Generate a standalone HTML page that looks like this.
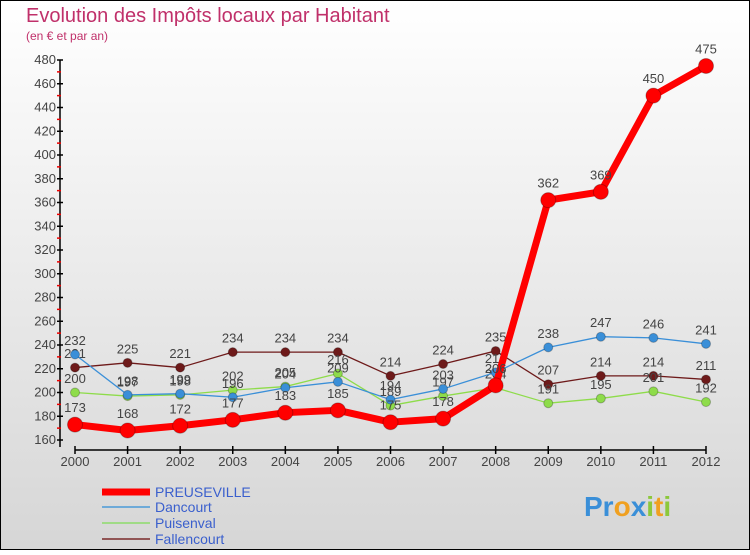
<!DOCTYPE html>
<html><head><meta charset="utf-8">
<style>
html,body{margin:0;padding:0}
body{width:750px;height:550px;overflow:hidden;font-family:"Liberation Sans","DejaVu Sans",sans-serif}
</style></head>
<body>
<svg width="750" height="550" xmlns="http://www.w3.org/2000/svg">
<defs>
<linearGradient id="bg" x1="0" y1="0" x2="0" y2="1">
<stop offset="0" stop-color="#ffffff"/><stop offset="1" stop-color="#d6d6d6"/>
</linearGradient>
</defs>
<rect x="0.5" y="0.5" width="749" height="549" fill="url(#bg)" stroke="#000"/>
<text x="26" y="22" font-size="20" fill="#c0306a">Evolution des Impôts locaux par Habitant</text>
<text x="26" y="40" font-size="12" fill="#c0306a">(en € et par an)</text>
<g id="axes"></g>
<g id="series"></g>
<g id="legend">
<line x1="102" y1="492" x2="150" y2="492" stroke="#ff0000" stroke-width="7"/>
<text x="155" y="497" font-size="14" fill="#3a5fcd">PREUSEVILLE</text>
<line x1="102" y1="507" x2="150" y2="507" stroke="#4a9ad8" stroke-width="1.5"/>
<text x="155" y="512" font-size="14" fill="#3a5fcd">Dancourt</text>
<line x1="102" y1="523" x2="150" y2="523" stroke="#8edc6a" stroke-width="1.5"/>
<text x="155" y="528" font-size="14" fill="#3a5fcd">Puisenval</text>
<line x1="102" y1="539" x2="150" y2="539" stroke="#7a2a2a" stroke-width="1.5"/>
<text x="155" y="544" font-size="14" fill="#3a5fcd">Fallencourt</text>
</g>
<g font-size="28" font-weight="bold">
<text x="584" y="516"><tspan fill="#3a8fd8">Pr</tspan><tspan fill="#f0a020">o</tspan><tspan fill="#3a8fd8">x</tspan><tspan fill="#8cc83c">i</tspan><tspan fill="#f0a020">t</tspan><tspan fill="#8cc83c">i</tspan></text>
</g>
</svg>
<script>
const years = ['2000','2001','2002','2003','2004','2005','2006','2007','2008','2009','2010','2011','2012'];
const preuseville = [173,168,172,177,183,185,175,178,206,362,369,450,475];
const dancourt = [232,198,199,196,204,209,194,203,217,238,247,246,241];
const puisenval = [200,197,198,202,205,216,189,197,204,191,195,201,192];
const fallencourt = [221,225,221,234,234,234,214,224,235,207,214,214,211];
const yTicks = [160,180,200,220,240,260,280,300,320,340,360,380,400,420,440,460,480];

const NS='http://www.w3.org/2000/svg';
const X0=75, X1=706, Y0=440, Y1=60, VMIN=160, VMAX=480;
const xs=i=>X0+(X1-X0)*i/(years.length-1);
const ys=v=>Y0-(v-VMIN)*(Y0-Y1)/(VMAX-VMIN);
function mk(tag,attrs,parent){const e=document.createElementNS(NS,tag);for(const k in attrs)e.setAttribute(k,attrs[k]);parent.appendChild(e);return e;}
const axes=document.getElementById('axes');
const yAxis=mk('line',{x1:60,y1:ys(VMAX),x2:60,y2:447,stroke:'#000','stroke-width':1.5},axes);


const xAxis=mk('line',{x1:X0,y1:450,x2:X1,y2:450,stroke:'#000','stroke-width':1.5},axes);


yTicks.forEach((v,i)=>{
  const y=ys(v);
  mk('line',{x1:57,y1:y,x2:63,y2:y,stroke:'#000','stroke-width':1.5},axes);
  if(i<yTicks.length-1){mk('line',{x1:57,y1:ys(v+10),x2:61,y2:ys(v+10),stroke:'#e00','stroke-width':1.5},axes);}
  const t=mk('text',{x:56,y:y+4,'font-size':13,fill:'#444','text-anchor':'end'},axes);
  t.textContent=v;
  
  
});
years.forEach((yr,i)=>{
  const x=xs(i);
  mk('line',{x1:x,y1:446,x2:x,y2:454,stroke:'#000','stroke-width':1.5},axes);
  const t=mk('text',{x:x,y:466,'font-size':13,fill:'#444','text-anchor':'middle'},axes);
  t.textContent=yr;
  
  
});
const sg=document.getElementById('series');
function draw(vals,name,color,w,r){
  const g=mk('g',{},sg);
  
  
  const pl=mk('polyline',{points:vals.map((v,i)=>xs(i)+','+ys(v)).join(' '),fill:'none',stroke:color,'stroke-width':w,'stroke-linejoin':'round'},g);
  
  
  vals.forEach((v,i)=>{
    const c=mk('circle',{cx:xs(i),cy:ys(v),r:r,fill:color,stroke:'rgba(0,0,0,0.25)','stroke-width':1},g);
    
    
    const t=mk('text',{x:xs(i),y:ys(v)-(r+5),'font-size':13,fill:'#444','text-anchor':'middle'},g);
    t.textContent=v;
    
    
  });
}
draw(fallencourt,'fallencourt','#6e1a1a',1.3,4.5);
draw(puisenval,'puisenval','#8edc4a',1.3,4.5);
draw(dancourt,'dancourt','#3a8fd8',1.3,4.5);
draw(preuseville,'preuseville','#ff0000',7,7.5);
</script>
</body></html>
